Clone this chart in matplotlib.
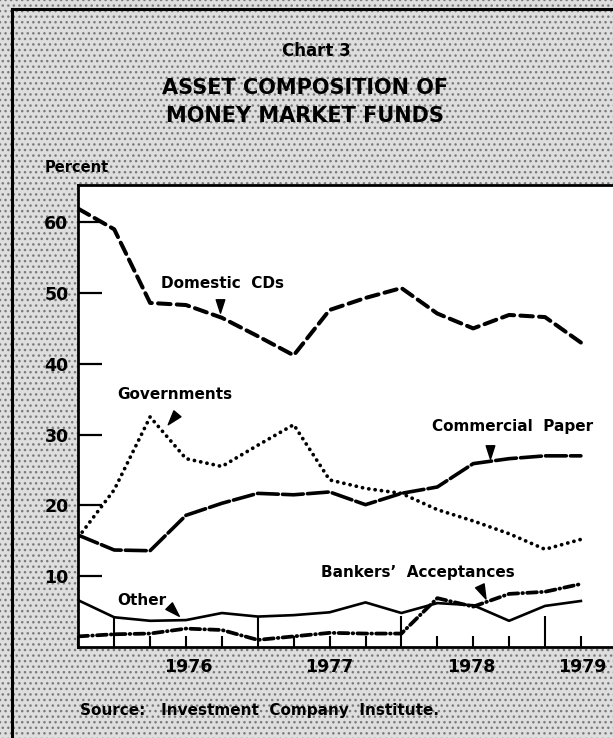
import numpy as np
import matplotlib
matplotlib.use("Agg")
import matplotlib.pyplot as plt
from matplotlib.patches import Rectangle
from matplotlib.lines import Line2D
from matplotlib.path import Path

# ---------------- data (quarterly, Q4 1975 .. Q2 1979) ----------------
quarters = list(range(15))
domestic_cds = [61.9, 59.0, 48.6, 48.3, 46.5, 43.9, 41.2, 47.6, 49.3, 50.7, 47.1, 45.0, 46.9, 46.6, 43.0]
governments = [15.5, 22.2, 32.5, 26.6, 25.5, 28.5, 31.4, 23.6, 22.4, 21.7, 19.4, 17.8, 16.0, 13.8, 15.2]
commercial_paper = [15.8, 13.7, 13.6, 18.6, 20.3, 21.7, 21.5, 21.9, 20.1, 21.7, 22.6, 25.9, 26.6, 27.0, 27.0]
other = [6.6, 4.2, 3.7, 3.8, 4.8, 4.3, 4.5, 4.9, 6.3, 4.8, 6.2, 5.9, 3.7, 5.8, 6.5]
bankers_acceptances = [1.5, 1.8, 1.9, 2.6, 2.4, 1.0, 1.5, 2.0, 1.9, 1.9, 6.9, 5.7, 7.5, 7.8, 8.9]

year_labels = ["1976", "1977", "1978", "1979"]
year_label_pos = [3.05, 7.0, 10.95, 14.05]
year_starts = [1, 5, 9, 13]
y_ticks = [10, 20, 30, 40, 50, 60]

# ---------------- figure ----------------
plt.rcParams['lines.scale_dashes'] = False
plt.rcParams['font.family'] = ['DejaVu Sans']

W, H = 613, 738
fig = plt.figure(figsize=(W / 100, H / 100), dpi=100)
fig.patch.set_facecolor('white')

# stippled grey paper background
bg = Rectangle((0, 0), 1, 1, transform=fig.transFigure, facecolor='#dedede',
               edgecolor='#7a7a7a', hatch='...', linewidth=0, zorder=-10)
fig.add_artist(bg)


def fx(px):
    return px / W


def fy(py):
    return 1 - py / H


# panel border (left and top)
fig.add_artist(Line2D([fx(12), fx(12)], [fy(9), 0], color='black', lw=2.2))
fig.add_artist(Line2D([fx(12), 1], [fy(9), fy(9)], color='black', lw=2.2))

left_px, right_px, top_px, bot_px = 78.3, 613, 185, 647
ax = fig.add_axes([fx(left_px), fy(bot_px), (right_px - left_px) / W, (bot_px - top_px) / H])
ax.set_facecolor('white')
ax.set_zorder(1)

x_max = (right_px - left_px) / 35.9
ax.set_xlim(0, x_max)
ax.set_ylim(0, (bot_px - top_px) / 7.08)

for s in ['left', 'top', 'bottom']:
    ax.spines[s].set_linewidth(2.0)
    ax.spines[s].set_color('black')
ax.spines['right'].set_visible(False)

# series
ax.plot(quarters, domestic_cds, color='black', lw=2.9, dashes=(9, 4.5), dash_capstyle='round')
ax.plot(quarters, governments, color='black', lw=2.7, dashes=(0.1, 4.5), dash_capstyle='round')
ax.plot(quarters, commercial_paper, color='black', lw=2.6, dashes=(15, 3), dash_capstyle='round')
ax.plot(quarters, other, color='black', lw=1.9, solid_joinstyle='round')
ax.plot(quarters, bankers_acceptances, color='black', lw=2.7, dashes=(7, 3, 0.5, 3),
        dash_capstyle='round')

# ticks
minor_q = [q for q in quarters if q not in year_starts]
ax.set_xticks(minor_q)
ax.set_xticks(year_starts, minor=True)
ax.tick_params(axis='x', which='major', direction='in', length=8, width=1.5, labelbottom=False)
ax.tick_params(axis='x', which='minor', direction='in', length=22, width=1.5, labelbottom=False)
ax.set_yticks(y_ticks)
ax.set_yticklabels([str(v) for v in y_ticks], fontsize=12.5, fontweight='bold')
ax.tick_params(axis='y', direction='in', length=17, width=1.6, pad=7)

for lab, pos in zip(year_labels, year_label_pos):
    ax.text(pos, -2.8, lab, ha='center', va='center', fontsize=12.5, fontweight='bold',
            clip_on=False)

# series labels
lab_kw = dict(ha='center', va='center', fontsize=11, fontweight='bold')
ax.text(4.03, 51.4, "Domestic  CDs", **lab_kw)
ax.text(2.69, 35.6, "Governments", **lab_kw)
ax.text(12.1, 31.1, "Commercial  Paper", **lab_kw)
ax.text(1.78, 6.6, "Other", **lab_kw)
ax.text(9.46, 10.5, "Bankers\u2019  Acceptances", **lab_kw)


# pointer triangles
def pointer(angle_deg):
    verts = np.array([[-0.45, 0.6], [0.45, 0.6], [0.0, -0.8], [-0.45, 0.6]])
    a = np.deg2rad(angle_deg)
    rot = np.array([[np.cos(a), -np.sin(a)], [np.sin(a), np.cos(a)]])
    v = verts @ rot.T
    return Path(v, [Path.MOVETO, Path.LINETO, Path.LINETO, Path.CLOSEPOLY])


for (px, py, ang) in [(3.95, 48.3, 0), (2.63, 32.4, -40), (11.47, 27.7, 0),
                      (2.65, 5.2, 45), (11.25, 7.9, 25)]:
    ax.plot([px], [py], marker=pointer(ang), markersize=11, color='black', lw=0)

# titles
fig.text(fx(316), fy(51), "Chart 3", ha='center', va='center', fontsize=12, fontweight='bold')
fig.text(fx(305), fy(88), "ASSET COMPOSITION OF", ha='center', va='center', fontsize=15,
         fontweight='heavy')
fig.text(fx(305), fy(116), "MONEY MARKET FUNDS", ha='center', va='center', fontsize=15,
         fontweight='heavy')
fig.text(fx(45), fy(168), "Percent", ha='left', va='center', fontsize=10.5, fontweight='bold')
fig.text(fx(80), fy(711), "Source:   Investment  Company  Institute.", ha='left', va='center',
         fontsize=11, fontweight='bold')

fig.savefig("out.png", dpi=100)
